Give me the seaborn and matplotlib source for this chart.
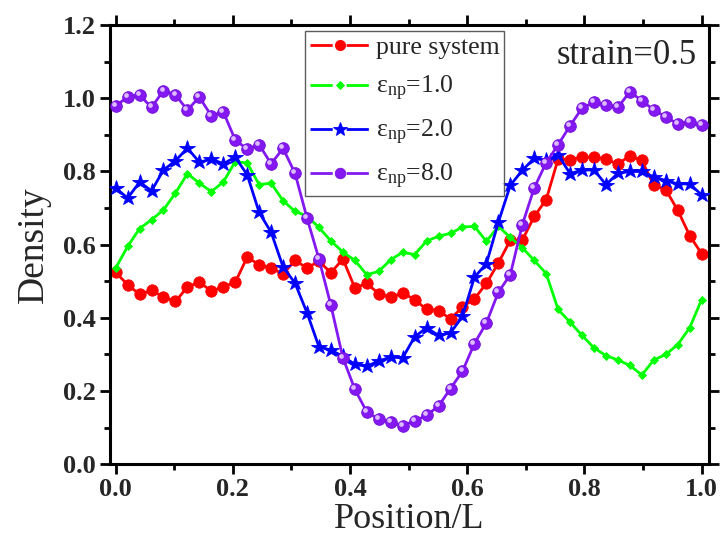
import numpy as np
import pandas as pd
import seaborn as sns
import matplotlib
matplotlib.use("Agg")
import matplotlib.pyplot as plt
from matplotlib.lines import Line2D
from matplotlib.ticker import MultipleLocator
from matplotlib import transforms

# Sampling positions along the box (50 bins from 0 to L)
position = np.linspace(0.0, 1.0, 50)

density_pure = [0.524, 0.491, 0.464, 0.475, 0.457, 0.445, 0.484, 0.498, 0.473, 0.485,
                0.497, 0.566, 0.545, 0.536, 0.520, 0.557, 0.536, 0.555, 0.523, 0.561,
                0.482, 0.494, 0.466, 0.456, 0.468, 0.450, 0.423, 0.420, 0.397, 0.430,
                0.452, 0.494, 0.550, 0.612, 0.612, 0.677, 0.723, 0.834, 0.832, 0.839,
                0.839, 0.834, 0.820, 0.843, 0.830, 0.762, 0.750, 0.694, 0.625, 0.575]

density_eps1 = [0.536, 0.595, 0.644, 0.668, 0.695, 0.741, 0.794, 0.768, 0.745, 0.771,
                0.827, 0.823, 0.764, 0.768, 0.720, 0.691, 0.678, 0.647, 0.610, 0.580,
                0.557, 0.518, 0.527, 0.559, 0.579, 0.573, 0.610, 0.623, 0.631, 0.648,
                0.650, 0.609, 0.650, 0.620, 0.592, 0.557, 0.521, 0.423, 0.388, 0.352,
                0.318, 0.297, 0.285, 0.270, 0.244, 0.285, 0.300, 0.327, 0.373, 0.450]

density_eps2 = [0.755, 0.727, 0.771, 0.747, 0.804, 0.829, 0.864, 0.825, 0.834, 0.821,
                0.839, 0.791, 0.688, 0.634, 0.539, 0.495, 0.414, 0.321, 0.312, 0.295,
                0.273, 0.268, 0.282, 0.293, 0.291, 0.348, 0.373, 0.352, 0.359, 0.404,
                0.511, 0.548, 0.661, 0.762, 0.803, 0.836, 0.830, 0.845, 0.794, 0.804,
                0.804, 0.764, 0.795, 0.800, 0.800, 0.785, 0.775, 0.766, 0.766, 0.736]

density_eps8 = [0.979, 1.003, 1.009, 0.975, 1.021, 1.009, 0.968, 1.003, 0.952, 0.963,
                0.886, 0.861, 0.873, 0.821, 0.863, 0.795, 0.673, 0.561, 0.434, 0.291,
                0.205, 0.143, 0.123, 0.115, 0.106, 0.118, 0.134, 0.159, 0.207, 0.254,
                0.330, 0.386, 0.470, 0.518, 0.654, 0.755, 0.824, 0.873, 0.925, 0.973,
                0.989, 0.981, 0.975, 1.018, 0.993, 0.968, 0.949, 0.930, 0.934, 0.926]

series_labels = ["pure system",
                 "ε$_{\\mathregular{np}}$=1.0",
                 "ε$_{\\mathregular{np}}$=2.0",
                 "ε$_{\\mathregular{np}}$=8.0"]
x_ticks = [0.0, 0.2, 0.4, 0.6, 0.8, 1.0]
y_ticks = [0.0, 0.2, 0.4, 0.6, 0.8, 1.0, 1.2]

sns.set_theme(style="ticks")
plt.rcParams["font.family"] = ["Liberation Serif", "DejaVu Serif"]
plt.rcParams["mathtext.fontset"] = "custom"
plt.rcParams["mathtext.rm"] = "Liberation Serif"
plt.rcParams["mathtext.it"] = "Liberation Serif:italic"
plt.rcParams["mathtext.bf"] = "Liberation Serif:bold"

fig = plt.figure(figsize=(7.21, 5.44), dpi=100)
ax = fig.add_axes([0.1526, 0.1465, 0.9834 - 0.1526, 0.954 - 0.1465])

styles = [
    dict(color="#ff0000", marker="o", ms=8.2, mec="#ff0000"),
    dict(color="#00ff00", marker="D", ms=4.0, mec="#00ff00"),
    dict(color="#0000ff", marker="*", ms=11.5, mec="#0000ff"),
    dict(color="#8418f0", marker="o", ms=8.4, mec="#7410d8"),
]
series = [density_pure, density_eps1, density_eps2, density_eps8]

for i, (vals, st) in enumerate(zip(series, styles)):
    df = pd.DataFrame({"Position": position, "Density": vals})
    sns.lineplot(data=df, x="Position", y="Density", ax=ax, color=st["color"],
                 marker=st["marker"], markersize=st["ms"], markeredgecolor=st["mec"],
                 markeredgewidth=0.6, linewidth=2.0, sort=False, zorder=2 + i)

# glossy highlight on the purple spheres
hl = transforms.offset_copy(ax.transData, fig=fig, x=-1.4, y=1.4, units="points")
ax.plot(position, density_eps8, linestyle="none", marker="o", ms=3.4,
        color="#dcbcff", mec="none", transform=hl, zorder=7)

ax.set_xlim(-0.0096, 1.0126)
ax.set_ylim(0.0, 1.2)
ax.set_xticks(x_ticks)
ax.set_yticks(y_ticks)
ax.set_xticklabels([f"{v:.1f}" for v in x_ticks])
ax.set_yticklabels([f"{v:.1f}" for v in y_ticks])
ax.xaxis.set_minor_locator(MultipleLocator(0.1))
ax.yaxis.set_minor_locator(MultipleLocator(0.1))

for side in ["top", "right", "bottom", "left"]:
    ax.spines[side].set_visible(True)
    ax.spines[side].set_linewidth(2.2)
    ax.spines[side].set_color("black")
ax.tick_params(which="both", direction="out", top=True, right=True,
               labeltop=False, labelright=False, width=2.0, color="black")
ax.tick_params(which="major", length=7, labelsize=19, pad=3)
ax.tick_params(which="minor", length=4)
for lab in ax.get_xticklabels() + ax.get_yticklabels():
    lab.set_fontweight("bold")

ax.set_xlabel("Position/L", fontsize=26, labelpad=1)
ax.set_ylabel("Density", fontsize=27, labelpad=9)

ax.text(0.98, 0.968, "strain=0.5", transform=ax.transAxes, ha="right", va="top",
        fontsize=25)

# legend handles: line with a gap around the symbol
handles = []
for st in styles:
    line = Line2D([], [], color=st["color"], linewidth=2.0,
                  dashes=(8.0, 5.0))
    mark = Line2D([], [], color=st["color"], linestyle="none", marker=st["marker"],
                  markersize=st["ms"] * (0.9 if st["marker"] != "D" else 1.1),
                  markeredgecolor=st["mec"], markeredgewidth=0.6)
    handles.append((line, mark))

leg = ax.legend(handles, series_labels, loc="upper left",
                bbox_to_anchor=(305 / 721, 1 - 31 / 544), bbox_transform=fig.transFigure,
                fontsize=18.5, frameon=True, fancybox=False, shadow=False,
                handlelength=2.3, handletextpad=0.25, labelspacing=0.58,
                borderpad=0.2, borderaxespad=0.0)
leg.get_frame().set_edgecolor("#333333")
leg.get_frame().set_linewidth(1.0)
leg.set_zorder(10)

fig.savefig("out.png", dpi=100)
